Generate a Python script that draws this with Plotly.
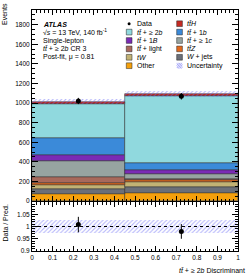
import plotly.graph_objects as go

# ---------------- data ----------------
bin_edges = [0.0, 0.45, 1.0]
# stack order bottom -> top
samples = ["Other", "W + jets", "tW", "ttZ", "tt+light", "tt+>=1c", "tt+1B", "tt+1b", "tt+>=2b", "ttH"]
other = [71, 79]
wjets = [51, 61]
tw = [44, 57]
ttz = [15, 17]
tt_light = [61, 13]
tt_1c = [166, 48]
tt_1B = [64, 41]
tt_1b = [168, 69]
tt_2b = [355, 691]
tth = [18, 15]
data_counts = [1021, 1069]
uncertainty = [26, 28]

colors = {
    "Other": "#f5a00c", "W + jets": "#6b6f78", "tW": "#c2b274", "ttZ": "#e2691d",
    "tt+light": "#a8695b", "tt+>=1c": "#97a4a1", "tt+1B": "#7a2bb5", "tt+1b": "#3b8ad9",
    "tt+>=2b": "#90d9de", "ttH": "#c52a22",
}
values = {"Other": other, "W + jets": wjets, "tW": tw, "ttZ": ttz, "tt+light": tt_light,
          "tt+>=1c": tt_1c, "tt+1B": tt_1B, "tt+1b": tt_1b, "tt+>=2b": tt_2b, "ttH": tth}

centers = [(bin_edges[i] + bin_edges[i + 1]) / 2 for i in range(len(bin_edges) - 1)]
widths = [bin_edges[i + 1] - bin_edges[i] for i in range(len(bin_edges) - 1)]

FONT = "Liberation Sans, Arial, Helvetica, sans-serif"
W, H = 249, 279
ML, MR, MT, MB = 32, 11, 10, 28
PW, PH = W - ML - MR, H - MT - MB
HATCH = "#6a6cf5"


def px(x):
    return (x - ML) / PW


def py(y):
    return (H - MB - y) / PH


fig = go.Figure()

bottoms = [0.0] * len(centers)
for s in samples:
    v = values[s]
    fig.add_trace(go.Bar(x=centers, y=v, base=bottoms[:], width=widths,
                         marker=dict(color=colors[s], line=dict(color="rgba(35,35,35,0.85)", width=0.6)),
                         showlegend=False, xaxis="x", yaxis="y"))
    bottoms = [b + vv for b, vv in zip(bottoms, v)]
pred = bottoms

# uncertainty band main
fig.add_trace(go.Bar(x=centers, y=[2 * u for u in uncertainty], base=[p - u for p, u in zip(pred, uncertainty)],
                     width=widths,
                     marker=dict(color="rgba(0,0,0,0)", line=dict(width=0),
                                 pattern=dict(shape="/", fgcolor=HATCH, bgcolor="rgba(255,255,255,0)",
                                              size=3, solidity=0.35)),
                     showlegend=False, xaxis="x", yaxis="y"))

# data
fig.add_trace(go.Scatter(x=centers, y=data_counts, mode="markers",
                         marker=dict(color="black", size=5),
                         error_y=dict(type="data", array=[d ** 0.5 for d in data_counts], color="black",
                                      thickness=1, width=0),
                         showlegend=False, xaxis="x", yaxis="y"))

# ratio uncertainty band
rel = [u / p for u, p in zip(uncertainty, pred)]
fig.add_trace(go.Bar(x=centers, y=[2 * r for r in rel], base=[1 - r for r in rel], width=widths,
                     marker=dict(color="rgba(0,0,0,0)", line=dict(width=0),
                                 pattern=dict(shape="/", fgcolor=HATCH, bgcolor="rgba(255,255,255,0)",
                                              size=3, solidity=0.35)),
                     showlegend=False, xaxis="x2", yaxis="y2"))
# ratio line at 1
fig.add_trace(go.Scatter(x=[bin_edges[0], bin_edges[-1]], y=[1, 1], mode="lines",
                         line=dict(color="black", width=1, dash="dot"),
                         showlegend=False, xaxis="x2", yaxis="y2"))
# ratio data
ratio = [d / p for d, p in zip(data_counts, pred)]
ratio_err = [d ** 0.5 / p for d, p in zip(data_counts, pred)]
fig.add_trace(go.Scatter(x=centers, y=ratio, mode="markers",
                         marker=dict(color="black", size=5),
                         error_y=dict(type="data", array=ratio_err, color="black", thickness=1, width=0),
                         showlegend=False, xaxis="x2", yaxis="y2"))

axis_common = dict(showline=True, linecolor="black", linewidth=1, mirror="allticks",
                   ticks="inside", tickcolor="black", showgrid=False, zeroline=False,
                   tickfont=dict(family=FONT, size=6.5, color="black"))

main_bottom = py(201)
ratio_top = py(202)

fig.update_layout(
    width=W, height=H, margin=dict(l=ML, r=MR, t=MT, b=MB),
    paper_bgcolor="white", plot_bgcolor="white",
    barmode="overlay", bargap=0, showlegend=False,
    font=dict(family=FONT, size=7, color="black"),
    xaxis=dict(domain=[0, 1], range=[0, 1], anchor="y", dtick=0.1, ticklen=5, showticklabels=False,
               minor=dict(dtick=0.02, ticklen=2.5, ticks="inside", tickcolor="black"), **axis_common),
    yaxis=dict(domain=[main_bottom, 1], range=[0, 1950], anchor="x", dtick=200, ticklen=6,
               minor=dict(dtick=50, ticklen=3, ticks="inside", tickcolor="black"), **axis_common),
    xaxis2=dict(domain=[0, 1], range=[0, 1], anchor="y2", dtick=0.1, ticklen=5,
                minor=dict(dtick=0.02, ticklen=2.5, ticks="inside", tickcolor="black"), **axis_common),
    yaxis2=dict(domain=[0, ratio_top], range=[0.9, 1.1], anchor="x2", tickvals=[0.9, 0.95, 1, 1.05],
                ticktext=["0.9", "0.95", "1", "1.05"], ticklen=6,
                minor=dict(dtick=0.01, ticklen=3, ticks="inside", tickcolor="black"), **axis_common),
)

ann = []
shapes = []
TS = 7
# axis titles
ann.append(dict(text="Events", xref="paper", yref="paper", x=px(4.5), y=py(1.5), xanchor="center",
                yanchor="top", textangle=-90, showarrow=False, font=dict(size=TS)))
ann.append(dict(text="Data / Pred.", xref="paper", yref="paper", x=px(4.5), y=py(223), xanchor="center",
                yanchor="middle", textangle=-90, showarrow=False, font=dict(size=TS)))
ann.append(dict(text="<i>t</i><i>t̄</i> + ≥ 2<i>b</i> Discriminant", xref="paper", yref="paper",
                x=px(247), y=py(270.5), xanchor="right", yanchor="middle", showarrow=False,
                font=dict(size=TS)))

# ATLAS labels
label_rows = [24, 32.3, 40.7, 49, 57.4]
labels = ["<b><i>ATLAS</i></b>", "√<i>s</i> = 13 TeV, 140 fb<sup>-1</sup>", "Single-lepton",
          "<i>t</i><i>t̄</i> + ≥ 2<i>b</i> CR 3", "Post-fit, μ = 0.81"]
for yy, t in zip(label_rows, labels):
    ann.append(dict(text=t, xref="paper", yref="paper", x=px(40.5), y=py(yy), xanchor="left",
                    yanchor="middle", showarrow=False, font=dict(size=TS)))

# legend (drawn manually)
leg_rows = [23.7, 32.1, 40.5, 48.9, 57.3, 65.7]
col1 = ["Data", "tt+>=2b", "tt+1B", "tt+light", "tW", "Other"]
col2 = ["ttH", "tt+1b", "tt+>=1c", "ttZ", "W + jets", "Uncertainty"]
names = {
    "Data": "Data", "tt+>=2b": "<i>t</i><i>t̄</i> + ≥ 2<i>b</i>", "tt+1B": "<i>t</i><i>t̄</i> + 1<i>B</i>",
    "tt+light": "<i>t</i><i>t̄</i> + light", "tW": "<i>tW</i>", "Other": "Other",
    "ttH": "<i>t</i><i>t̄</i><i>H</i>", "tt+1b": "<i>t</i><i>t̄</i> + 1<i>b</i>",
    "tt+>=1c": "<i>t</i><i>t̄</i> + ≥ 1<i>c</i>", "ttZ": "<i>t</i><i>t̄</i><i>Z</i>",
    "W + jets": "<i>W</i> + jets", "Uncertainty": "Uncertainty",
}
BOX = 5.7
for cx, col in [(126.3, col1), (176.7, col2)]:
    for yy, key in zip(leg_rows, col):
        x0, x1, y0, y1 = cx, cx + BOX, yy - BOX / 2, yy + BOX / 2
        if key == "Data":
            shapes.append(dict(type="circle", xref="paper", yref="paper", x0=px(cx + 1.3), x1=px(cx + 4.3),
                               y0=py(yy + 1.5), y1=py(yy - 1.5), fillcolor="black", line=dict(width=0)))
        elif key == "Uncertainty":
            step = 1.6
            a = step
            while a < 2 * BOX:
                # diagonal "/" lines clipped to the box
                xa, ya = x0 + max(0, a - BOX), y1 - min(a, BOX) + 0  # upper-right end
                xs = x0 + max(0, a - BOX)
                ys = y1 - max(0, a - BOX) if False else y1
                # start on bottom/right edge, end on left/top edge
                p0 = (x0 + min(a, BOX), y1 - max(0, a - BOX))
                p1 = (x0 + max(0, a - BOX), y1 - min(a, BOX))
                shapes.append(dict(type="line", xref="paper", yref="paper",
                                   x0=px(p0[0]), y0=py(p0[1]), x1=px(p1[0]), y1=py(p1[1]),
                                   line=dict(color=HATCH, width=0.6)))
                a += step
        else:
            shapes.append(dict(type="rect", xref="paper", yref="paper", x0=px(x0), x1=px(x1),
                               y0=py(y1), y1=py(y0), fillcolor=colors[key],
                               line=dict(color="rgba(35,35,35,0.85)", width=0.6)))
        ann.append(dict(text=names[key], xref="paper", yref="paper", x=px(cx + 8.7), y=py(yy),
                        xanchor="left", yanchor="middle", showarrow=False, font=dict(size=TS)))

fig.update_layout(annotations=ann, shapes=shapes)
fig.write_html("out.html", config={"displayModeBar": False},
               post_script="document.body.style.margin='0';document.body.style.padding='0';")
